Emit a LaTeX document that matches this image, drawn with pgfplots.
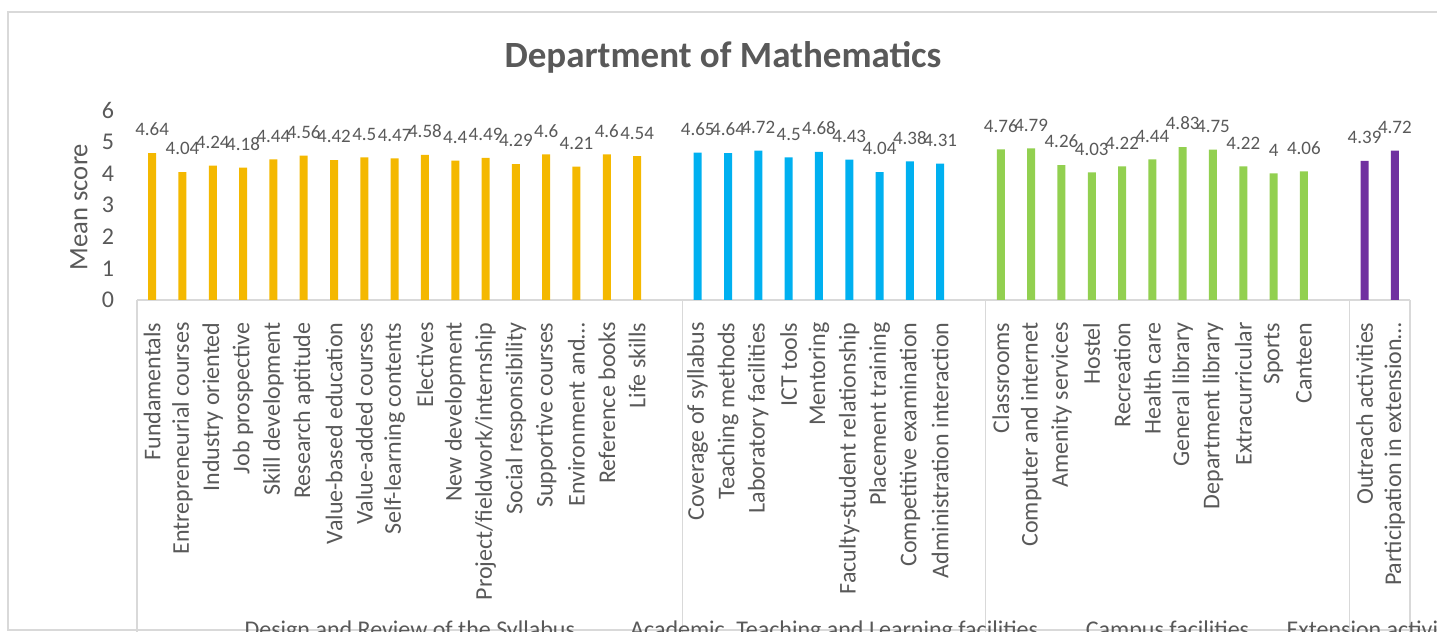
\documentclass[border=0pt]{standalone}
\usepackage{pgfplots}
\pgfplotsset{compat=1.18}
\usepackage{fontspec}
\setmainfont{Carlito}
\definecolor{txt}{HTML}{595959}
\definecolor{lgray}{HTML}{D9D9D9}
\definecolor{cgold}{HTML}{F4B800}
\definecolor{cblue}{HTML}{00B0F0}
\definecolor{cgreen}{HTML}{92D050}
\definecolor{cpurple}{HTML}{7030A0}
\begin{document}
\begin{tikzpicture}
\useasboundingbox (0,0) rectangle (718.5pt,316pt);
\clip (0,0) rectangle (718.5pt,316pt);
\draw[lgray, line width=0.75pt] (750pt,1pt) -- (4pt,1pt) -- (4pt,310pt) -- (750pt,310pt);
\node[font=\fontsize{18.5}{20}\selectfont\bfseries, text=txt, anchor=base] at (361.5pt,282pt) {Department of Mathematics};
\node[rotate=90, font=\fontsize{13.3}{14}\selectfont, text=txt] at (39.5pt,212.5pt) {Mean score};
\begin{axis}[
  at={(68.5pt,166pt)}, anchor=south west, scale only axis,
  width=636.5pt, height=95pt,
  xmin=-0.5, xmax=41.5, ymin=0, ymax=6,
  ytick={0,...,6},
  axis lines*=left,
  x axis line style={draw=lgray, line width=0.75pt},
  y axis line style={draw=none},
  tick style={draw=none},
  /pgf/number format/assume math mode=true,
  yticklabel style={font=\fontsize{12}{12}\selectfont, text=txt},
  yticklabel shift=8pt,
  xtick={0,...,16,18,19,...,26,28,29,...,38,40,41},
  xticklabels={Fundamentals, Entrepreneurial courses, Industry oriented, Job prospective, Skill development, Research aptitude, Value-based education, Value-added courses, Self-learning contents, Electives, New development, Project/fieldwork/internship, Social responsibility, Supportive courses, Environment and…, Reference books, Life skills,
    Coverage of syllabus, Teaching methods, Laboratory facilities, ICT tools, Mentoring, Faculty-student relationship, Placement training, Competitive examination, Administration interaction,
    Classrooms, Computer and internet, Amenity services, Hostel, Recreation, Health care, General library, Department library, Extracurricular, Sports, Canteen,
    Outreach activities, Participation in extension…},
  xticklabel style={rotate=90, anchor=east, font=\fontsize{12}{12}\selectfont, text=txt},
  xticklabel shift=3.5pt,
  ybar, bar width=4pt, bar shift=0pt,
  clip=false,
  nodes near coords={\pgfmathprintnumber[assume math mode=true]{\pgfplotspointmeta}},
  nodes near coords style={font=\fontsize{9.5}{9.5}\selectfont, text=txt, anchor=south, yshift=5pt},
]
\addplot[fill=cgold, draw=none] coordinates {
 (0,4.64) (1,4.04) (2,4.24) (3,4.18) (4,4.44) (5,4.56) (6,4.42) (7,4.5) (8,4.47)
 (9,4.58) (10,4.4) (11,4.49) (12,4.29) (13,4.6) (14,4.21) (15,4.6) (16,4.54)};
\addplot[fill=cblue, draw=none] coordinates {
 (18,4.65) (19,4.64) (20,4.72) (21,4.5) (22,4.68) (23,4.43) (24,4.04) (25,4.38) (26,4.31)};
\addplot[fill=cgreen, draw=none] coordinates {
 (28,4.76) (29,4.79) (30,4.26) (31,4.03) (32,4.22) (33,4.44) (34,4.83) (35,4.75) (36,4.22) (37,4) (38,4.06)};
\addplot[fill=cpurple, draw=none] coordinates {
 (40,4.39) (41,4.72)};
\pgfplotsinvokeforeach{-0.5,17.5,27.5,39.5,41.5}{
  \draw[lgray, line width=0.75pt] (axis cs:#1,0) -- ++(0pt,-180pt);
}
\node[anchor=base, yshift=-168.5pt, font=\fontsize{12}{12}\selectfont, text=txt] at (axis cs:8.5,0) {Design and Review of the Syllabus};
\node[anchor=base, yshift=-168.5pt, font=\fontsize{12}{12}\selectfont, text=txt] at (axis cs:22.5,0) {Academic, Teaching and Learning facilities};
\node[anchor=base, yshift=-168.5pt, font=\fontsize{12}{12}\selectfont, text=txt] at (axis cs:33.5,0) {Campus facilities};
\node[anchor=base, yshift=-168.5pt, font=\fontsize{12}{12}\selectfont, text=txt] at (axis cs:40.5,0) {Extension activities};
\end{axis}
\end{tikzpicture}
\end{document}
